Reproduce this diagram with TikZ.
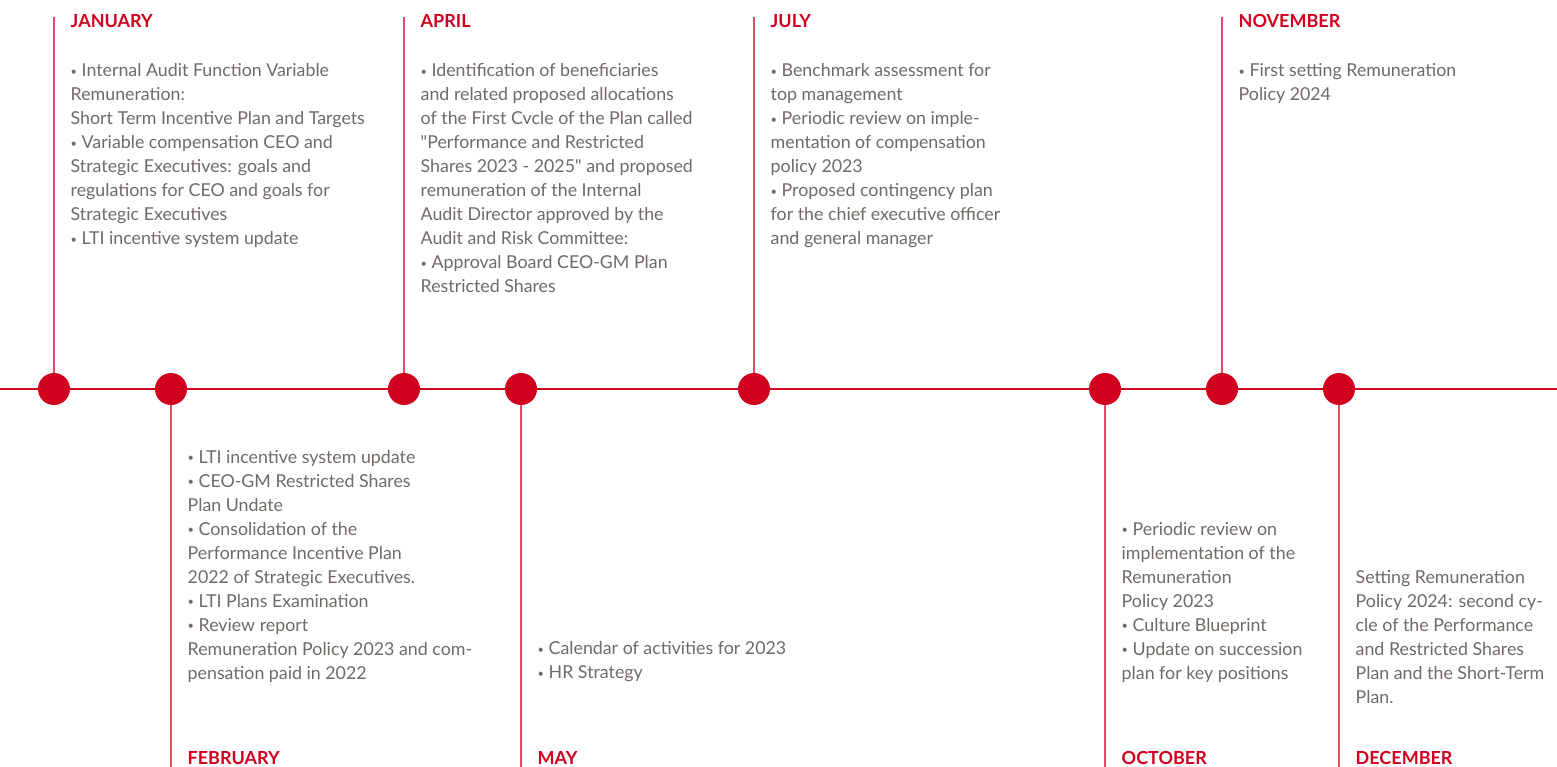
\documentclass[tikz,border=0pt]{standalone}
\usepackage{fontspec}
\usepackage{graphicx}
\setmainfont{Lato}[Ligatures=TeXOff]
\definecolor{tlred}{RGB}{208,0,30}
\definecolor{tlgray}{RGB}{112,106,101}
\tikzset{
  dot/.style={circle,fill=tlred,minimum size=32pt,inner sep=0pt},
  axis/.style={draw=tlred,line width=2pt},
  stem/.style={draw=tlred!70,line width=1.3pt},
  month/.style={anchor=base west,inner sep=0pt,text=tlred,font=\fontsize{18}{22}\selectfont\bfseries},
  body/.style={anchor=base west,inner sep=0pt,text=tlgray,font=\fontsize{17.8}{24}\selectfont},
}
\newcommand{\blk}[1]{\parbox[t]{420pt}{\raggedright #1}}
\newcommand{\bul}{\raisebox{1.2pt}{\scalebox{0.62}{•}}}
\begin{document}
\begin{tikzpicture}[x=1pt,y=-1pt]
\useasboundingbox (0,0) rectangle (1557,767);
% axis
\coordinate (axL) at (0,389);
\coordinate (axR) at (1557,389);
\draw[axis] (axL) -- (axR);
% stems
\coordinate (tJan) at (54,17);
\coordinate (tApr) at (404,17);
\coordinate (tJul) at (754,17);
\coordinate (tNov) at (1222,17);
\coordinate (bFeb) at (171,767);
\coordinate (bMay) at (521,767);
\coordinate (bOct) at (1105,767);
\coordinate (bDec) at (1339,767);
\draw[stem] (tJan) -- (54,389);
\draw[stem] (tApr) -- (404,389);
\draw[stem] (tJul) -- (754,389);
\draw[stem] (tNov) -- (1222,389);
\draw[stem] (171,389) -- (bFeb);
\draw[stem] (521,389) -- (bMay);
\draw[stem] (1105,389) -- (bOct);
\draw[stem] (1339,389) -- (bDec);
% dots
\node[dot] (dJan) at (54,389) {};
\node[dot] (dFeb) at (171,389) {};
\node[dot] (dApr) at (404,389) {};
\node[dot] (dMay) at (521,389) {};
\node[dot] (dJul) at (754,389) {};
\node[dot] (dOct) at (1105,389) {};
\node[dot] (dNov) at (1222,389) {};
\node[dot] (dDec) at (1339,389) {};
% month labels
\node[month] (mJan) at (70.5,28) {JANUARY};
\node[month] (mApr) at (420.5,28) {APRIL};
\node[month] (mJul) at (770.5,28) {JULY};
\node[month] (mNov) at (1238.5,28) {NOVEMBER};
\node[month] (mFeb) at (187.5,764) {FEBRUARY};
\node[month] (mMay) at (537.5,764) {MAY};
\node[month] (mOct) at (1121.5,764) {OCTOBER};
\node[month] (mDec) at (1355.5,764) {DECEMBER};
% texts
\node[body] (xJan) at (70.5,77) {\blk{\bul\ Internal Audit Function Variable\\
Remuneration:\\
Short Term Incentive Plan and Targets\\
\bul\ Variable compensation CEO and\\
Strategic Executives: goals and\\
regulations for CEO and goals for\\
Strategic Executives\\
\bul\ LTI incentive system update}};
\node[body] (xApr) at (420.5,77) {\blk{\bul\ Identification of beneficiaries\\
and related proposed allocations\\
of the First Cvcle of the Plan called\\
"Performance and Restricted\\
Shares 2023 - 2025" and proposed\\
remuneration of the Internal\\
Audit Director approved by the\\
Audit and Risk Committee:\\
\bul\ Approval Board CEO-GM Plan\\
Restricted Shares}};
\node[body] (xJul) at (770.5,77) {\blk{\bul\ Benchmark assessment for\\
top management\\
\bul\ Periodic review on imple-\\
mentation of compensation\\
policy 2023\\
\bul\ Proposed contingency plan\\
for the chief executive officer\\
and general manager}};
\node[body] (xNov) at (1238.5,77) {\blk{\bul\ First setting Remuneration\\
Policy 2024}};
\node[body] (xFeb) at (187.5,463) {\blk{\bul\ LTI incentive system update\\
\bul\ CEO-GM Restricted Shares\\
Plan Undate\\
\bul\ Consolidation of the\\
Performance Incentive Plan\\
2022 of Strategic Executives.\\
\bul\ LTI Plans Examination\\
\bul\ Review report\\
Remuneration Policy 2023 and com-\\
pensation paid in 2022}};
\node[body] (xMay) at (537.5,654.5) {\blk{\bul\ Calendar of activities for 2023\\
\bul\ HR Strategy}};
\node[body] (xOct) at (1121.5,535) {\blk{\bul\ Periodic review on\\
implementation of the\\
Remuneration\\
Policy 2023\\
\bul\ Culture Blueprint\\
\bul\ Update on succession\\
plan for key positions}};
\node[body] (xDec) at (1355.5,583) {\blk{Setting Remuneration\\
Policy 2024: second cy-\\
cle of the Performance\\
and Restricted Shares\\
Plan and the Short-Term\\
Plan.}};
\end{tikzpicture}
\end{document}
